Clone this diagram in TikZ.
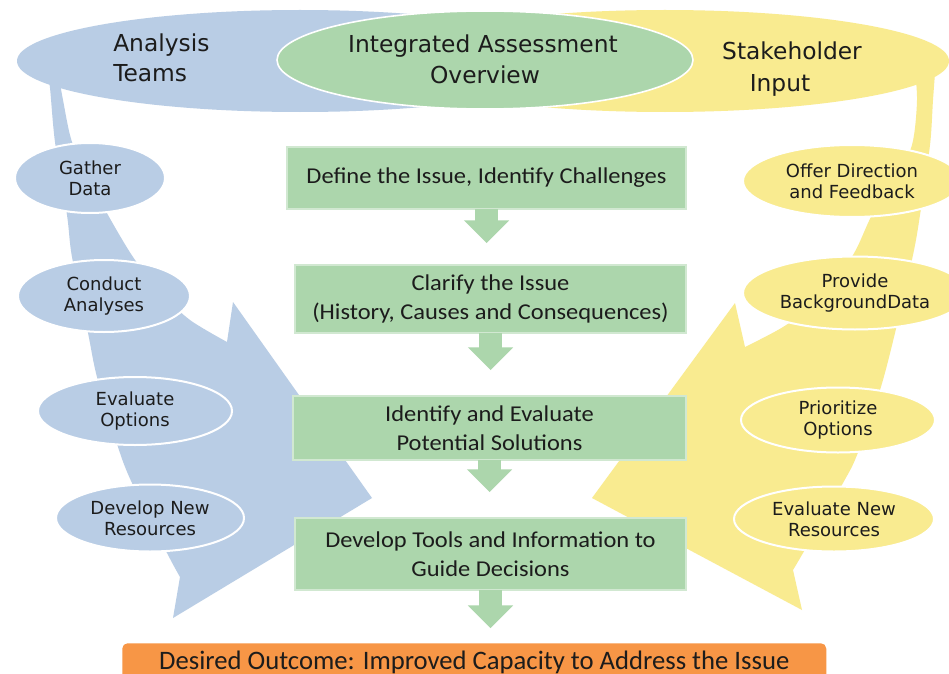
\documentclass[tikz,border=0pt]{standalone}
\usepackage{fontspec}
\usetikzlibrary{shapes.geometric,calc}
\newfontfamily\lblfont{DejaVu Sans}
\newfontfamily\boxfont[FakeStretch=1.08]{Carlito}
\newfontfamily\outfont{Carlito}
\definecolor{bluec}{RGB}{185,205,229}
\definecolor{yelc}{RGB}{249,235,144}
\definecolor{grnc}{RGB}{172,214,172}
\definecolor{orgc}{RGB}{247,150,70}
\definecolor{txtc}{RGB}{28,28,28}
\def\px{0.75pt}
\tikzset{
  toplbl/.style={font=\lblfont\fontsize{17.5}{20}\selectfont, text=txtc, inner sep=0},
  smell/.style={ellipse, draw=white, line width=1.5pt, inner sep=0, align=center, text=txtc, font=\lblfont\fontsize{13.5}{16}\selectfont},
  bluell/.style={smell, fill=bluec},
  yelell/.style={smell, fill=yelc},
  gbox/.style={rectangle, fill=grnc, draw=grnc!55!white, line width=0.8pt, inner sep=0, outer sep=0, align=center, text=txtc, font=\boxfont\fontsize{17}{22}\selectfont},
  obox/.style={rectangle, rounded corners=4pt, fill=orgc, inner sep=0, text=txtc, font=\outfont\fontsize{20}{24}\selectfont},
  blockarr/.style={to path={let \p1=(\tikztostart), \p2=(\tikztotarget) in
    (\x1-8.6pt,\y1) -- (\x1-8.6pt,\y2+17pt) -- (\x1-17pt,\y2+17pt) -- (\x1,\y2)
    -- (\x1+17pt,\y2+17pt) -- (\x1+8.6pt,\y2+17pt) -- (\x1+8.6pt,\y1) -- cycle}}
}
\begin{document}
\begin{tikzpicture}[x=0.75pt,y=-0.75pt]
\clip (0,0) rectangle (949,674);
\fill[white] (0,0) rectangle (949,674);

% big curved arrows
\fill[bluec] plot[smooth] coordinates {(56,60) (63,100) (72,142) (90,180) (108,215) (133,257) (160,292) (190,320) (227,342)}
  -- (233,302) -- (372,498) -- (173,618)
  -- plot[smooth] coordinates {(180,577) (167,553) (132,483) (118,447) (97,377) (88,333) (72,257) (67,215) (55,142) (50,88) (46,60)} -- cycle;
\fill[yelc] plot[smooth] coordinates {(914,60) (917,100) (912,145) (895,180) (872,215) (853,255) (820,300) (783,327) (745,347)}
  -- (735,303) -- (592,498) -- (802,610)
  -- plot[smooth] coordinates {(793,570) (803,553) (843,483) (857,455) (880,390) (895,333) (913,255) (920,215) (930,145) (933,100) (936,60)} -- cycle;

% top ellipses
\node[ellipse, fill=bluec, inner sep=0, minimum width=566*\px, minimum height=102*\px] (teamsell) at (300,61) {};
\node[ellipse, fill=yelc, inner sep=0, minimum width=568*\px, minimum height=102*\px] (stakeell) at (665,61) {};
\node[ellipse, fill=grnc, draw=white, line width=1.2pt, inner sep=0, minimum width=416*\px, minimum height=98*\px] (overview) at (485,60) {};

\node[toplbl, anchor=base west] (analysis) at (113,52) {Analysis};
\node[toplbl, anchor=base west] (teams) at (113,82) {Teams};
\node[toplbl, anchor=base] (integ) at (483,53) {Integrated Assessment};
\node[toplbl, anchor=base] (overv) at (485,84) {Overview};
\node[toplbl, anchor=base] (stake) at (792,60) {Stakeholder};
\node[toplbl, anchor=base] (input) at (780,92) {Input};

% small ellipses
\node[bluell, minimum width=150*\px, minimum height=70*\px] (gather) at (90,178) {Gather\\Data};
\node[bluell, minimum width=172*\px, minimum height=72*\px] (conduct) at (104,296) {Conduct\\Analyses};
\node[bluell, minimum width=194*\px, minimum height=68*\px] (evalopt) at (135,411) {Evaluate\\Options};
\node[bluell, minimum width=188*\px, minimum height=67*\px] (devnew) at (150,518) {Develop New\\Resources};

\node[yelell, minimum width=218*\px, minimum height=72*\px] (offer) at (852,181) {Offer Direction\\and Feedback};
\node[yelell, minimum width=224*\px, minimum height=73*\px] (provide) at (855,293) {Provide\\BackgroundData};
\node[yelell, minimum width=194*\px, minimum height=65*\px] (prior) at (838,420) {Prioritize\\Options};
\node[yelell, minimum width=200*\px, minimum height=65*\px] (evalnew) at (834,519) {Evaluate New\\Resources};

% tips of the green block arrows
\coordinate (t1) at (487,243);
\coordinate (t2) at (490,370);
\coordinate (t3) at (490,492);
\coordinate (t4) at (490,628);

% green boxes
\node[gbox, minimum width=399*\px, minimum height=62*\px] (b1) at (486.5,178) {Define the Issue, Identify Challenges};
\node[gbox, minimum width=391*\px, minimum height=68*\px] (b2) at (490.5,299) {Clarify the Issue\\(History, Causes and Consequences)};
\node[gbox, minimum width=393*\px, minimum height=64*\px] (b3) at (489.5,428) {Identify and Evaluate\\Potential Solutions};
\node[gbox, minimum width=391*\px, minimum height=72*\px] (b4) at (490.5,554) {Develop Tools and Information to\\Guide Decisions};

\fill[grnc] (b1.south) to[blockarr] (t1);
\fill[grnc] (b2.south) to[blockarr] (t2);
\fill[grnc] (b3.south) to[blockarr] (t3);
\fill[grnc] (b4.south) to[blockarr] (t4);

% outcome
\node[obox, anchor=north west, minimum width=704*\px, minimum height=38*\px] (outcome) at (122,643) {Desired Outcome: Improved Capacity to Address the Issue};
\end{tikzpicture}
\end{document}
